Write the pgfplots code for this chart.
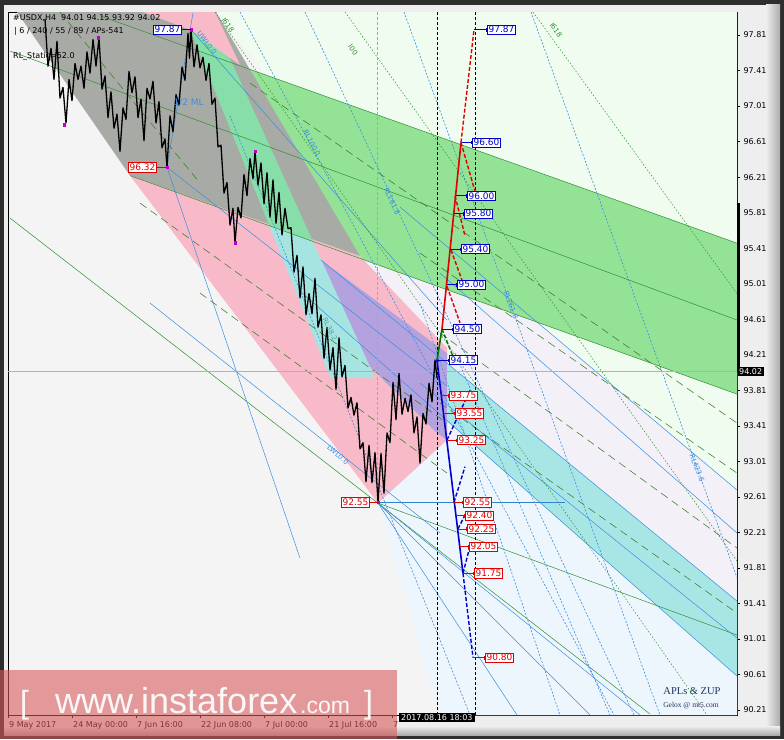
\documentclass[border=0pt]{standalone}
\usepackage{fontspec}
\setmainfont{DejaVu Sans}
\newfontfamily\lsans{Liberation Sans}
\newfontfamily\lserif{Liberation Serif}
\usepackage{pgfplots}
\pgfplotsset{compat=1.18}

\definecolor{framedark}{HTML}{2E2E2E}
\definecolor{panel}{HTML}{EEEEEE}
\definecolor{plotbg}{HTML}{F4F4F4}
\definecolor{ltgreen}{HTML}{EFFCEF}
\definecolor{lavender}{HTML}{F3F0F8}
\definecolor{ltblue}{HTML}{EEF6FD}
\definecolor{bandgreen}{HTML}{93E296}
\definecolor{chgray}{HTML}{A8AAA6}
\definecolor{chpink}{HTML}{F8B9C9}
\definecolor{chpurple}{HTML}{B3A2DD}
\definecolor{fangreen}{HTML}{88DEA8}
\definecolor{fancyan}{HTML}{A6E4E2}
\definecolor{bandcyan}{HTML}{A8E6E6}
\definecolor{gline}{HTML}{2F8F2F}
\definecolor{bline}{HTML}{3A8EE0}
\definecolor{gdash}{HTML}{3C7D28}
\definecolor{zred}{HTML}{E00000}
\definecolor{zblue}{HTML}{0000C8}
\definecolor{wmred}{HTML}{D85858}
\definecolor{pivot}{HTML}{C000C0}
\definecolor{txtnavy}{HTML}{22325A}

\pgfplotsset{
  poly/.style={draw=none, forget plot},
  gl/.style={gline, line width=0.5pt, forget plot},
  bl/.style={bline, line width=0.5pt, forget plot},
  bd/.style={bline, line width=0.6pt, dash pattern=on 2pt off 1.6pt, forget plot},
  gd/.style={gdash, line width=0.55pt, dash pattern=on 8pt off 5pt, forget plot},
  gdot/.style={gline, line width=0.5pt, dash pattern=on 1.5pt off 1.8pt, forget plot},
}
\tikzset{
  zbox/.style={fill=white, line width=0.6pt, inner xsep=1.3pt, inner ysep=1.2pt, font=\fontsize{9}{10}\selectfont},
  rl/.style={text=bline, font=\fontsize{7}{8}\selectfont, inner sep=0pt},
}

% label to the right of a ZUP point: x of point, x of box, price, colour
\newcommand{\zlab}[4]{%
  \addplot[#4, line width=0.6pt, forget plot] coordinates {(#1,#3) (#2,#3)};
  \addplot[#4, only marks, mark=square, mark size=1.2pt, forget plot] coordinates {(#2,#3)};
  \node[zbox, draw=#4, text=#4, anchor=west] at (axis cs:#2,#3) {#3};
}
% label to the left of a pivot
\newcommand{\zlabL}[4]{%
  \addplot[#4, line width=0.6pt, forget plot] coordinates {(#2,#3) (#1,#3)};
  \node[zbox, draw=#4, text=#4, anchor=east] at (axis cs:#2,#3) {#3};
}

\begin{document}
\begin{tikzpicture}[x=1pt,y=1pt]
\useasboundingbox (0,0) rectangle (784,739);
\fill[framedark] (0,0) rectangle (784,739);
\fill[panel] (4,4) rectangle (780,734);
\shade[left color=panel, right color=gray!65] (766,4) rectangle (780,734);
\shade[top color=panel, bottom color=gray!65] (4,4) rectangle (780,13);

\begin{axis}[
  at={(8,27)}, anchor=south west,
  scale only axis, width=729pt, height=703pt,
  xmin=8, xmax=737, ymin=90.154, ymax=98.069,
  clip mode=individual,
  axis background/.style={fill=plotbg},
  axis line style={black, line width=0.6pt},
  tick align=outside, major tick length=3pt,
  tick style={black, line width=0.5pt},
  xtick pos=bottom, ytick pos=right, yticklabel pos=right,
  xtick={8,72,136,200,264,328,392},
  xticklabels={9 May 2017,24 May 00:00,7 Jun 16:00,22 Jun 08:00,7 Jul 00:00,21 Jul 16:00,7},
  xticklabel style={anchor=north west, inner xsep=1pt, font=\fontsize{8}{9}\selectfont},
  ytick={90.21,90.61,91.01,91.41,91.81,92.21,92.61,93.01,93.41,93.81,94.21,94.61,95.01,95.41,95.81,96.21,96.61,97.01,97.41,97.81},
  yticklabels={90.21,90.61,91.01,91.41,91.81,92.21,92.61,93.01,93.41,93.81,94.21,94.61,95.01,95.41,95.81,96.21,96.61,97.01,97.41,97.81},
  yticklabel style={font=\fontsize{8}{9}\selectfont},
]

% ---- background zones
\addplot[poly, fill=ltgreen] coordinates {(216,98.069) (737,98.069) (737,92.687) (400,95.873) (330,96.481)} -- cycle;
\addplot[poly, fill=lavender] coordinates {(360,95.321) (400,95.873) (737,92.687) (737,90.154) (440,90.154) (378,92.540)} -- cycle;
\addplot[poly, fill=ltblue] coordinates {(378,92.540) (447,93.250) (480,93.137) (737,90.593) (737,90.154) (440,90.154)} -- cycle;

% ---- channels
\addplot[poly, fill=bandgreen] coordinates {(100,98.026) (737,95.466) (737,93.767) (130,96.227)} -- cycle;
\addplot[poly, fill=chgray] coordinates {(17,98.069) (216,98.069) (360,95.321) (130,96.227)} -- cycle;
\addplot[poly, fill=chpink] coordinates {(130,96.227) (360,95.321) (447,94.286) (447,93.250) (378,92.540)} -- cycle;
\addplot[poly, fill=chpurple] coordinates {(321,95.277) (447,94.229) (447,93.250) (437,93.329) (343,94.376)} -- cycle;
\addplot[poly, fill=fangreen] coordinates {(183,98.069) (209,98.069) (312.9,95.486) (269.3,95.662)} -- cycle;
\addplot[poly, fill=fancyan] coordinates {(269.3,95.662) (312.9,95.486) (375,93.948) (330.4,93.948)} -- cycle;
\addplot[poly, fill=chpink] coordinates {(143,98.069) (215,98.069) (240,97.472) (191,97.866)} -- cycle;
\addplot[poly, fill=bandcyan] coordinates {(447,94.117) (737,91.437) (737,90.593) (480,93.137) (447,93.464)} -- cycle;

% ---- green solid lines
\addplot[gl] coordinates {(100,98.026) (737,95.466)};
\addplot[gl] coordinates {(130,96.227) (737,93.767)};
\addplot[gl] coordinates {(10,97.630) (737,94.601)};
\addplot[gl] coordinates {(10,95.749) (650,90.165)};
\addplot[gl] coordinates {(378,92.540) (737,91.054)};

% ---- blue solid lines
\addplot[bl] coordinates {(321,95.277) (737,91.437)};
\addplot[bl] coordinates {(300,94.927) (737,90.593)};
\addplot[bl] coordinates {(420,93.892) (737,91.021)};
\addplot[bl] coordinates {(400,95.873) (737,92.687)};
\addplot[bl] coordinates {(440,95.130) (737,92.203)};
\addplot[bl] coordinates {(167,96.32) (447,93.858)};
\addplot[bl] coordinates {(167,96.32) (300,91.921)};
\addplot[bl] coordinates {(167,96.32) (193,98.058)};
\addplot[bl] coordinates {(150,94.792) (440,92.203)};
\addplot[bl] coordinates {(378,92.54) (517,90.154)};
\addplot[bl] coordinates {(378,92.54) (590,90.154)};
\addplot[bl] coordinates {(378,92.54) (640,90.154)};
\addplot[bl] coordinates {(191,97.87) (447,94.60)};

% ---- dotted reaction lines
\addplot[bd] coordinates {(240,98.069) (614,90.154)};
\addplot[bd] coordinates {(305,98.069) (634,90.154)};
\addplot[bd] coordinates {(404,98.069) (660,90.154)};
\addplot[bd] coordinates {(531,98.069) (787,90.154)};
\addplot[bd] coordinates {(420,94.792) (560,90.154)};
\addplot[bd] coordinates {(455,94.229) (610,90.154)};
\addplot[bd] coordinates {(230,96.90) (470,90.154)};

% ---- dashed green lines
\addplot[gd] coordinates {(250,97.269) (737,93.441)};
\addplot[gd] coordinates {(420,95.355) (737,92.878)};
\addplot[gd] coordinates {(440,94.455) (737,92.034)};
\addplot[gd] coordinates {(440,93.667) (737,91.302)};
\addplot[gd] coordinates {(140,95.918) (447,93.441)};
\addplot[gd] coordinates {(200,94.905) (447,92.878)};
\addplot[gd] coordinates {(60,98.069) (200,96.143)};
\addplot[gdot] coordinates {(215,98.069) (707,90.154)};
\addplot[gdot] coordinates {(345,98.069) (737,91.888)};
\addplot[gdot] coordinates {(533,98.069) (737,94.899)};

% ---- level and time markers
\addplot[gray!60, line width=0.5pt, forget plot] coordinates {(8,94.02) (737,94.02)};
\addplot[orange!80!yellow, line width=0.6pt, dash pattern=on 3pt off 2pt, forget plot] coordinates {(377,98.069) (377,92.55)};
\addplot[black, line width=0.6pt, dash pattern=on 3pt off 2pt, forget plot] coordinates {(437,98.069) (437,90.154)};
\addplot[black, line width=0.6pt, dash pattern=on 3pt off 2pt, forget plot] coordinates {(475,98.069) (475,90.154)};
\addplot[bline!90!black, line width=1.3pt, forget plot] coordinates {(378,92.55) (565,92.55)};

% ---- price (H4 bars as high/low zigzag)
\addplot[black, line width=1.3pt, line join=round, forget plot] coordinates {
(45,97.99)(48,97.46)(51,97.66)(54,97.31)(57,97.74)(60,97.10)(63,97.22)(66,96.82)
(69,97.31)(72,97.07)(75,97.49)(78,97.31)(81,97.46)(84,97.21)(87,97.62)(90,97.38)
(93,97.76)(96,97.46)(99,97.78)(102,97.20)(105,97.35)(108,96.88)(111,97.17)(114,96.76)
(117,96.92)(120,96.50)(123,96.99)(126,96.86)(129,97.40)(132,97.16)(135,97.34)(138,96.88)
(141,97.09)(144,96.62)(147,97.21)(150,97.09)(153,97.29)(156,96.82)(159,97.06)(162,96.54)
(165,96.64)(167,96.32)(170,96.90)(173,96.72)(176,97.14)(179,97.02)(182,97.45)(185,97.30)
(188,97.83)(189.5,97.55)(191,97.87)(194,97.45)(197,97.70)(200,97.44)(203,97.56)(206,97.30)
(209,97.49)(212,97.03)(215,97.10)(218,96.55)(221,96.57)(224,96.03)(227,96.15)(230,95.67)
(233,95.86)(235,95.47)(238,95.87)(241,95.75)(244,96.24)(247,96.00)(250,96.42)(253,96.19)
(255,96.50)(258,96.12)(261,96.37)(264,95.91)(267,96.26)(270,95.76)(273,96.18)(276,95.69)
(279,96.04)(282,95.56)(285,95.86)(288,95.63)(291,95.64)(294,95.14)(297,95.33)(300,94.85)
(303,95.20)(306,94.66)(309,94.90)(312,94.67)(315,95.07)(318,94.52)(321,94.66)(324,94.17)
(327,94.52)(330,94.04)(333,94.29)(336,93.82)(339,94.40)(342,93.96)(345,94.09)(348,93.61)
(351,93.73)(354,93.53)(357,93.67)(360,93.15)(363,93.22)(366,92.78)(369,93.19)(372,92.77)
(375,93.11)(378,92.55)(381,93.10)(384,92.65)(387,93.33)(390,93.22)(393,93.90)(396,93.48)
(399,94.00)(402,93.54)(405,93.72)(408,93.57)(411,93.76)(414,93.33)(417,93.51)(420,92.99)
(423,93.55)(426,93.43)(429,93.89)(432,93.68)(435,94.15)(437,93.95)
};
\addplot[pivot, only marks, mark=square*, mark size=1.3pt, forget plot] coordinates {
(64,96.80)(98,97.78)(167,96.32)(191,97.87)(235,95.47)(255,96.50)(378,92.55)(437,94.15)};

% ---- ZUP projection
\addplot[green!45!black, line width=1.6pt, forget plot] coordinates {(437,94.15) (442,94.50)};
\addplot[green!45!black, line width=1.4pt, dash pattern=on 4pt off 2pt, forget plot] coordinates {(442,94.50) (453,94.19)};
\addplot[zred, line width=1.6pt, forget plot] coordinates {(442,94.50) (461,96.60)};
\addplot[zred, line width=1.4pt, dash pattern=on 4pt off 2pt, forget plot] coordinates {(461,96.60) (474,97.87)};
\addplot[zred, line width=1.4pt, dash pattern=on 4pt off 2pt, forget plot] coordinates {(461,96.60) (475,96.05)};
\addplot[zred, line width=1.4pt, dash pattern=on 4pt off 2pt, forget plot] coordinates {(455,96.00) (465,95.55)};
\addplot[zred, line width=1.4pt, dash pattern=on 4pt off 2pt, forget plot] coordinates {(451,95.39) (462,95.05)};
\addplot[zred, line width=1.4pt, dash pattern=on 4pt off 2pt, forget plot] coordinates {(447,94.98) (460,94.57)};
\addplot[zblue, line width=1.6pt, forget plot] coordinates {(437,94.15) (463,91.75)};
\addplot[zblue, line width=1.4pt, dash pattern=on 4pt off 2pt, forget plot] coordinates {(463,91.75) (473,90.80)};
\addplot[zblue, line width=1.4pt, dash pattern=on 4pt off 2pt, forget plot] coordinates {(447,93.25) (470,93.81)};
\addplot[zblue, line width=1.4pt, dash pattern=on 4pt off 2pt, forget plot] coordinates {(454,92.55) (465,92.95)};
\addplot[zblue, line width=1.4pt, dash pattern=on 4pt off 2pt, forget plot] coordinates {(458,92.25) (467,92.45)};
\addplot[zblue, line width=1.4pt, dash pattern=on 4pt off 2pt, forget plot] coordinates {(463,91.75) (471,92.10)};

\zlab{474}{487}{97.87}{zblue}
\zlab{462}{472}{96.60}{zblue}
\zlab{456}{467}{96.00}{zblue}
\zlab{454}{464}{95.80}{zblue}
\zlab{450}{461}{95.40}{zblue}
\zlab{447}{457}{95.00}{zblue}
\zlab{442}{453}{94.50}{zblue}
\zlab{437}{449}{94.15}{zblue}
\zlab{441}{449}{93.75}{zred}
\zlab{443.5}{455}{93.55}{zred}
\zlab{447}{457}{93.25}{zred}
\zlab{454}{463}{92.55}{zred}
\zlab{456}{465}{92.40}{zred}
\zlab{458}{467}{92.25}{zred}
\zlab{460}{469}{92.05}{zred}
\zlab{463}{474}{91.75}{zred}
\zlab{473}{485}{90.80}{zred}
\zlabL{191}{182}{97.87}{zblue}
\zlabL{167}{157}{96.32}{zred}
\zlabL{378}{370}{92.55}{zred}

% ---- line captions
\node[text=bline, font=\fontsize{9}{10}\selectfont, anchor=west] at (axis cs:170,97.044) {1/2 ML};
\node[rl, rotate=-52] at (axis cs:207,97.72) {UWL0.0};
\node[rl, rotate=-62] at (axis cs:312,96.594) {RL100.0};
\node[rl, rotate=-65] at (axis cs:392,95.941) {RL161.8};
\node[rl, rotate=-70] at (axis cs:511,94.77) {RL261.8};
\node[rl, rotate=-68] at (axis cs:697,92.935) {RL423.6};
\node[rl, rotate=-40] at (axis cs:338,93.081) {LWL0.0};
\node[rl, rotate=-62, text=teal!70] at (axis cs:330,94.50) {RL38.2};
\node[rl, rotate=-55, text=gline] at (axis cs:228,97.922) {I618};
\node[rl, rotate=-55, text=gline] at (axis cs:556,97.866) {I618};
\node[rl, rotate=-55, text=gline] at (axis cs:353,97.641) {I00};

% ---- header texts
\node[anchor=west, inner sep=0pt, font=\fontsize{8}{9}\selectfont] at (axis cs:13,98.00) {\#USDX,H4\ \ 94.01 94.15 93.92 94.02};
\node[anchor=west, inner sep=0pt, font=\fontsize{8}{9}\selectfont] at (axis cs:14,97.855) {| 6 / 240 / 55 / 89 / APs-541};
\node[anchor=west, inner sep=0pt, font=\fontsize{8}{9}\selectfont] at (axis cs:13,97.573) {RL\_Static=52.0};
\node[text=txtnavy, font=\lserif\fontsize{10.5}{11}\selectfont] at (axis cs:692,90.424) {APLs \& ZUP};
\node[text=txtnavy, font=\lserif\fontsize{7.5}{8}\selectfont] at (axis cs:691,90.255) {Gelox @ mt5.com};

% ---- right-hand price marker
\draw[black, line width=3pt] (axis cs:738.5,95.92) -- (axis cs:738.5,94.02);
\node[fill=black, text=white, anchor=west, inner xsep=1.5pt, inner ysep=1.3pt, font=\fontsize{8}{9}\selectfont] at (axis cs:737.5,94.02) {94.02};
\end{axis}

% time box over the axis labels
\node[fill=black, text=white, anchor=north west, inner xsep=2pt, inner ysep=1.5pt, font=\fontsize{8}{9}\selectfont] at (399,26.5) {2017.08.16 18:03};

% ---- watermark
\fill[wmred, opacity=0.58] (0,0) rectangle (397,69);
\node[anchor=base west, inner sep=0pt, text=white, opacity=0.92, font=\lsans\fontsize{32}{32}\selectfont] at (20,26) {[};
\node[anchor=base west, inner sep=0pt, text=white, opacity=0.92, font=\lsans\fontsize{36}{36}\selectfont] at (55,26) {www.instaforex};
\node[anchor=base west, inner sep=0pt, text=white, opacity=0.92, font=\lsans\fontsize{23}{23}\selectfont] at (300,26) {.com};
\node[anchor=base west, inner sep=0pt, text=white, opacity=0.92, font=\lsans\fontsize{32}{32}\selectfont] at (364,26) {]};
\end{tikzpicture}
\end{document}
